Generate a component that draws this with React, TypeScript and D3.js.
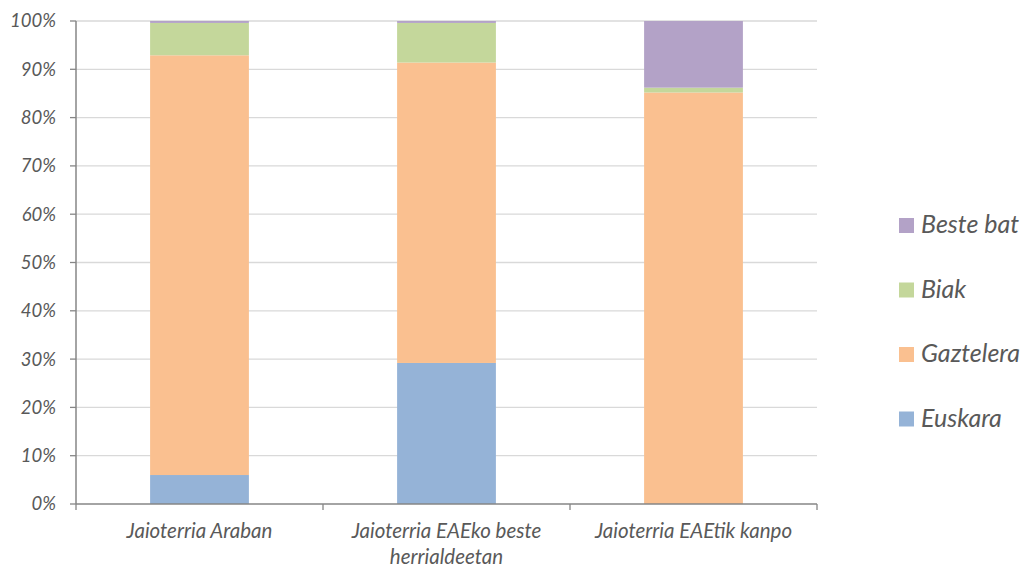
import React from "react";
import * as d3 from "d3";

const categories = ["Jaioterria Araban", "Jaioterria EAEko beste herrialdeetan", "Jaioterria EAEtik kanpo"];
const categoryLines = [["Jaioterria Araban"], ["Jaioterria EAEko beste", "herrialdeetan"], ["Jaioterria EAEtik kanpo"]];
const seriesNames = ["Euskara", "Gaztelera", "Biak", "Beste bat"];
const euskara = [6.0, 29.2, 0];
const gaztelera = [86.9, 62.2, 85.2];
const biak = [6.7, 8.2, 1.0];
const besteBat = [0.4, 0.4, 13.8];
const seriesColors = ["#95b3d7", "#fac090", "#c4d79b", "#b3a2c7"];
const yTicks = [0, 10, 20, 30, 40, 50, 60, 70, 80, 90, 100];

export default function App() {
  const width = 1026, height = 567;
  const left = 76, right = 817, top = 21, bottom = 504;
  const x = d3.scaleBand<string>().domain(categories).range([left, right]).paddingInner(0.6).paddingOuter(0.3);
  const y = d3.scaleLinear().domain([0, 100]).range([bottom, top]);
  const rows = categories.map((c, i) => ({ cat: c, Euskara: euskara[i], Gaztelera: gaztelera[i], Biak: biak[i], "Beste bat": besteBat[i] }));
  const stacked = d3.stack<any>().keys(seriesNames)(rows);
  const band = (right - left) / categories.length;
  const font = "Lato, 'Open Sans', sans-serif";
  const textColor = "#595959";
  return (
    <svg width={width} height={height} style={{ position: "absolute", left: 0, top: 0 }}>
      {yTicks.map(t => (
        <g key={t}>
          {t > 0 && <line x1={left} x2={right} y1={y(t)} y2={y(t)} stroke="#d9d9d9" strokeWidth={1.3} />}
          <line x1={left - 6} x2={left} y1={y(t)} y2={y(t)} stroke="#868686" strokeWidth={1.3} />
          <text x={56} y={y(t)} dy="0.35em" textAnchor="end" fontFamily={font} fontStyle="italic" fontSize={18.5} fill={textColor}>{t}%</text>
        </g>
      ))}
      {stacked.map((s, si) => (
        <g key={s.key} fill={seriesColors[si]}>
          {s.map((d, i) => {
            const h = y(d[0]) - y(d[1]);
            if (h <= 0) return null;
            return <rect key={i} x={x(categories[i])} width={x.bandwidth()} y={y(d[1])} height={h} />;
          })}
        </g>
      ))}
      <line x1={left} x2={left} y1={top} y2={bottom} stroke="#868686" strokeWidth={1.5} />
      <line x1={left} x2={right} y1={bottom} y2={bottom} stroke="#868686" strokeWidth={1.5} />
      {d3.range(categories.length + 1).map(i => (
        <line key={i} x1={left + i * band} x2={left + i * band} y1={bottom} y2={bottom + 6} stroke="#868686" strokeWidth={1.3} />
      ))}
      {categories.map((c, i) => (
        <text key={c} x={x(c)! + x.bandwidth() / 2} y={538} textAnchor="middle" fontFamily={font} fontStyle="italic" fontSize={20.5} fill={textColor}>
          {categoryLines[i].map((ln, j) => (
            <tspan key={j} x={x(c)! + x.bandwidth() / 2} dy={j === 0 ? 0 : 26}>{ln}</tspan>
          ))}
        </text>
      ))}
      {seriesNames.slice().reverse().map((n, i) => {
        const si = seriesNames.length - 1 - i;
        const by = 233 + i * 64.5;
        return (
          <g key={n}>
            <rect x={899} y={by - 15} width={15} height={15} fill={seriesColors[si]} />
            <text x={921} y={by} fontFamily={font} fontStyle="italic" fontSize={25} fill={textColor}>{n}</text>
          </g>
        );
      })}
    </svg>
  );
}
